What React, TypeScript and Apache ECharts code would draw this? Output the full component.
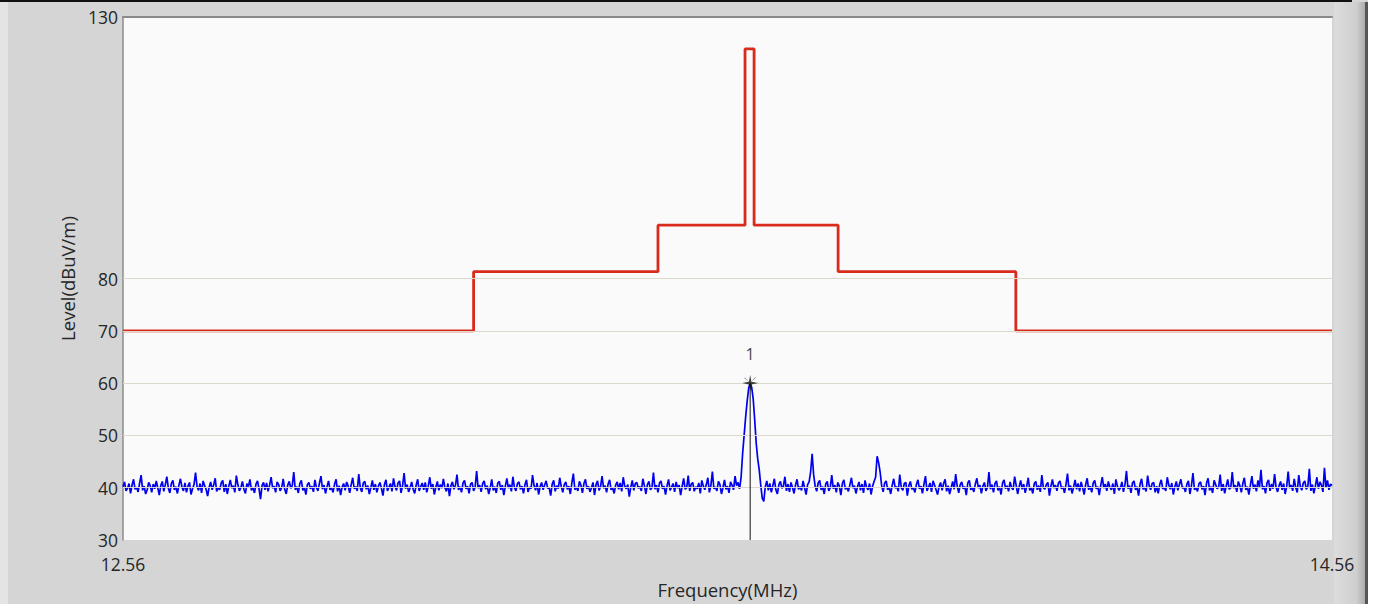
import React, { useEffect, useRef } from "react";
import * as echarts from "echarts";

// Axis ranges
const freqMin = 12.56;
const freqMax = 14.56;
const levelMin = 30;
const levelMax = 130;
const xTickLabels = [12.56, 14.56];
const yTickLabels = [30, 40, 50, 60, 70, 80, 130];
const gridLevels = [40, 50, 60, 70, 80];

// Limit mask (red): breakpoints in MHz and level in each segment (dBuV/m)
const maskEdges = [12.56, 13.14, 13.445, 13.589, 13.604, 13.743, 14.037, 14.56];
const maskLevels = [70, 81.3, 90.2, 123.9, 90.2, 81.3, 70];

// Measured trace (blue): level every traceStep MHz starting at freqMin
const traceStep = 0.0025;
const traceLevels = [
  40.2, 41.1, 39.4, 39.9, 40.8, 38.9, 40.5, 41.6, 39.7, 40.1, 39.2, 40.9, 42.4, 39.5, 40.3, 38.8, 39.6, 41.0, 40.4, 39.1,
  40.7, 39.8, 41.3, 40.0, 38.6, 40.4, 41.2, 39.3, 40.6, 42.1, 39.9, 39.0, 40.8, 41.4, 39.6, 40.2, 38.9, 40.5, 41.7, 40.1,
  39.4, 40.9, 39.1, 40.3, 41.0, 38.7, 39.8, 40.6, 42.9, 40.2, 39.5, 40.8, 39.0, 41.3, 40.4, 39.7, 38.4, 40.1, 41.1, 39.6,
  40.5, 41.8, 39.3, 40.0, 39.6, 40.9, 41.4, 39.2, 40.7, 38.8, 40.3, 41.5, 39.9, 40.4, 39.1, 42.3, 40.6, 39.4, 40.0, 41.2,
  39.7, 38.9, 40.8, 40.2, 41.6, 39.5, 40.1, 39.0, 40.7, 41.3, 39.8, 37.8, 40.4, 41.0, 39.6, 40.9, 39.3, 40.5, 42.0, 39.9,
  40.3, 39.1, 41.1, 40.6, 39.4, 40.0, 41.7, 39.7, 38.8, 40.5, 41.2, 39.9, 40.4, 43.0, 39.6, 40.2, 39.0, 40.8, 41.4, 39.5,
  40.1, 38.7, 40.6, 41.0, 39.8, 40.3, 39.2, 41.5, 40.0, 39.4, 40.9, 42.2, 39.7, 40.5, 38.9, 40.2, 41.3, 39.6, 40.0, 39.1,
  40.7, 41.6, 39.3, 40.4, 38.6, 40.1, 40.8, 39.5, 41.1, 40.3, 39.0, 40.6, 41.9, 39.8, 40.2, 39.4, 42.6, 40.0, 39.2, 40.9,
  41.2, 39.7, 40.4, 38.8, 40.0, 41.4, 39.6, 40.7, 39.1, 40.3, 41.0, 39.9, 38.5, 40.6, 41.5, 39.4, 40.1, 40.8, 39.3, 41.8,
  40.2, 39.5, 40.9, 41.3, 39.0, 40.4, 42.8, 39.8, 40.6, 39.2, 40.0, 41.1, 39.7, 38.9, 40.5, 41.6, 39.4, 40.2, 40.9, 39.6,
  41.0, 39.1, 40.3, 42.0, 39.8, 40.7, 38.7, 40.1, 41.2, 39.5, 40.6, 39.9, 41.7, 40.0, 39.3, 40.8, 38.4, 40.4, 41.1, 39.7,
  40.5, 42.5, 39.6, 40.2, 39.1, 40.9, 41.4, 39.8, 40.3, 38.9, 40.7, 41.0, 39.4, 40.1, 43.2, 39.9, 40.5, 39.2, 40.8, 41.3,
  39.7, 40.4, 38.8, 40.0, 41.6, 39.5, 40.2, 39.0, 40.9, 41.2, 39.6, 40.5, 38.6, 40.3, 41.8, 39.9, 40.6, 39.3, 42.1, 40.0,
  39.4, 40.8, 41.1, 39.7, 40.3, 38.9, 40.6, 41.5, 39.2, 40.1, 39.8, 42.4, 40.4, 39.5, 40.9, 38.7, 40.2, 41.0, 39.6, 40.5,
  41.3, 39.9, 40.0, 38.5, 40.7, 41.4, 39.3, 40.4, 39.8, 41.9, 40.2, 39.1, 40.6, 41.1, 39.7, 40.3, 38.8, 40.9, 42.7, 39.6,
  40.1, 39.4, 41.2, 40.5, 39.0, 40.8, 41.6, 39.8, 40.3, 39.2, 40.0, 41.0, 38.6, 40.6, 41.3, 39.5, 40.2, 42.2, 39.9, 40.4,
  39.1, 40.7, 41.5, 39.6, 40.0, 38.9, 40.5, 41.1, 39.7, 40.9, 39.3, 42.0, 40.3, 39.8, 40.6, 38.3, 40.1, 41.4, 39.5, 40.8,
  41.0, 39.9, 40.2, 39.4, 41.7, 40.4, 38.8, 40.6, 41.2, 39.6, 40.0, 42.9, 39.7, 40.5, 39.1, 40.9, 41.3, 39.8, 40.3, 38.7,
  40.4, 41.6, 39.5, 40.1, 40.8, 39.2, 41.1, 39.9, 40.5, 38.6, 40.3, 41.8, 39.7, 40.0, 42.3, 39.4, 40.7, 41.0, 39.3, 40.2,
  39.8, 40.9, 38.9, 41.4, 40.3, 39.6, 40.6, 41.9, 39.1, 40.4, 43.1, 39.8, 40.1, 39.4, 41.2, 40.6, 38.8, 40.0, 41.5, 39.7,
  40.3, 39.0, 41.1, 40.5, 39.6, 42.2, 40.4, 41.0, 39.8, 42.0, 46.5, 50.0, 53.5, 56.5, 59.0, 60.0, 59.2, 57.0, 53.0, 48.5,
  45.5, 43.4, 40.5, 38.0, 37.4, 40.2, 41.3, 39.5, 40.8, 39.1, 40.4, 41.7, 39.6, 38.8, 40.6, 41.2, 39.9, 40.3, 42.1, 39.4,
  40.7, 39.2, 41.0, 40.1, 38.9, 40.5, 41.6, 39.7, 40.2, 39.5, 41.3, 40.0, 38.7, 40.6, 41.1, 43.0, 46.5, 42.5, 40.3, 39.3,
  40.9, 41.4, 39.6, 40.2, 38.8, 40.7, 41.2, 39.4, 40.0, 42.4, 39.8, 40.5, 39.1, 41.0, 40.3, 38.6, 40.8, 41.5, 39.7, 40.1,
  39.3, 40.6, 41.9, 39.9, 40.4, 38.9, 40.2, 41.1, 39.5, 40.7, 39.0, 41.4, 40.1, 39.6, 40.8, 38.7, 40.3, 41.2, 42.0, 46.0,
  44.8, 43.0, 40.4, 39.2, 40.9, 41.3, 39.6, 40.1, 38.8, 40.5, 41.7, 39.9, 40.2, 39.3, 42.5, 40.0, 39.5, 40.8, 41.0, 38.5,
  40.4, 41.2, 39.7, 40.0, 39.1, 40.6, 41.5, 39.8, 40.3, 38.9, 40.7, 42.2, 39.4, 40.1, 40.9, 39.2, 41.3, 40.5, 39.6, 38.7,
  40.2, 41.0, 39.5, 40.8, 41.6, 39.3, 40.4, 38.8, 40.0, 41.2, 39.7, 42.6, 40.3, 39.0, 40.6, 41.1, 39.8, 40.2, 38.6, 40.9,
  41.4, 39.6, 40.1, 39.2, 40.7, 41.8, 39.9, 40.5, 38.9, 40.3, 41.0, 39.4, 40.0, 43.0, 39.7, 40.6, 39.1, 40.8, 41.3, 39.5,
  40.2, 38.7, 40.9, 41.5, 39.8, 40.4, 39.3, 41.1, 40.0, 39.6, 42.1, 40.5, 38.8, 40.2, 41.4, 39.7, 40.7, 39.0, 40.3, 41.9,
  39.5, 40.1, 38.9, 40.8, 41.2, 39.6, 40.4, 39.2, 42.4, 40.0, 39.7, 40.6, 41.0, 38.5, 40.3, 41.6, 39.9, 40.5, 39.4, 40.9,
  41.3, 39.8, 40.2, 39.0, 40.7, 42.7, 39.5, 40.4, 38.9, 40.1, 41.5, 39.7, 40.8, 39.3, 41.1, 40.0, 38.7, 40.6, 41.8, 39.6,
  40.3, 39.1, 40.9, 41.4, 39.8, 40.2, 38.6, 40.5, 42.0, 39.9, 40.7, 39.4, 41.2, 40.1, 39.6, 40.8, 38.8, 41.6, 40.3, 39.5,
  40.0, 41.1, 39.2, 40.6, 43.2, 39.8, 40.4, 39.0, 40.9, 41.3, 39.6, 40.2, 38.5, 40.7, 41.7, 39.7, 40.1, 39.3, 42.3, 40.4,
  39.6, 40.8, 41.0, 39.1, 40.3, 38.9, 40.6, 41.5, 39.8, 40.0, 39.4, 42.0, 40.5, 39.7, 40.9, 38.7, 40.2, 41.2, 39.5, 40.6,
  41.6, 39.9, 40.1, 39.2, 40.7, 41.3, 38.8, 40.4, 42.8, 39.6, 40.0, 39.3, 40.8, 41.1, 39.7, 40.3, 38.6, 40.9, 41.8, 39.5,
  40.2, 39.0, 41.4, 40.6, 39.8, 40.1, 42.5, 39.4, 40.7, 38.9, 40.3, 41.6, 39.7, 40.0, 43.0, 39.9, 40.5, 39.2, 41.2, 40.4,
  39.1, 40.8, 41.9, 39.6, 40.2, 38.7, 40.5, 42.2, 39.8, 40.6, 39.3, 41.4, 40.0, 43.4, 39.7, 40.3, 38.9, 40.9, 41.5, 39.4,
  40.7, 39.8, 42.6, 40.1, 39.2, 40.4, 41.2, 39.6, 40.8, 38.8, 40.2, 43.1, 39.9, 40.5, 39.4, 41.7, 40.0, 39.1, 42.4, 40.3,
  39.5, 40.9, 41.3, 39.7, 40.2, 43.6, 39.4, 40.6, 38.9, 40.3, 42.0, 39.8, 41.1, 40.5, 39.2, 43.8, 40.0, 41.4, 39.6, 40.7,
  40.4,
];

// Marker 1
const markerFreq = 13.5975;
const markerLevel = 60.0;
const markerName = "1";

const FONT = "'Open Sans', 'DejaVu Sans', sans-serif";
const TEXT = "#262626";

export default function App() {
  const ref = useRef<HTMLDivElement>(null);

  useEffect(() => {
    if (!ref.current) return;
    const chart = echarts.init(ref.current, null, { renderer: "svg" });

    const tracePoints = traceLevels.map((v, i) => [
      +(freqMin + i * traceStep).toFixed(5),
      v,
    ]);
    const maskPoints: number[][] = [];
    maskLevels.forEach((lv, i) => {
      maskPoints.push([maskEdges[i], lv]);
      maskPoints.push([maskEdges[i + 1], lv]);
    });

    const starPath =
      "path://M0,-10 L1.6,-1.6 L10,0 L1.6,1.6 L0,10 L-1.6,1.6 L-10,0 L-1.6,-1.6 Z M-7,-7 L-1,-1 L-7,-6 Z M7,-7 L1,-1 L6,-7 Z";

    chart.setOption({
      animation: false,
      backgroundColor: "#d5d5d5",
      graphic: [
        { type: "rect", left: 0, top: 0, shape: { width: 8, height: 604 }, style: { fill: "#e4e4e4" }, silent: true },
        { type: "rect", left: 0, top: 0, shape: { width: 1352, height: 2 }, style: { fill: "#111" }, silent: true },
        {
          type: "rect",
          left: 1334,
          top: 2,
          shape: { width: 32, height: 602 },
          style: {
            fill: new echarts.graphic.LinearGradient(0, 0, 1, 0, [
              { offset: 0, color: "#dcdcdc" },
              { offset: 0.7, color: "#cfcfcf" },
              { offset: 1, color: "#a8a8a8" },
            ]),
          },
          silent: true,
        },
        { type: "rect", left: 1365, top: 2, shape: { width: 3, height: 602 }, style: { fill: "#555" }, silent: true },
        { type: "rect", left: 1368, top: 0, shape: { width: 5, height: 604 }, style: { fill: "#fff" }, silent: true },
      ],
      grid: {
        left: 123,
        right: 41,
        top: 17,
        bottom: 64,
        show: true,
        backgroundColor: "#fafafa",
        borderWidth: 0,
      },
      xAxis: [
        {
          type: "value",
          min: freqMin,
          max: freqMax,
          name: "Frequency(MHz)",
          nameLocation: "middle",
          nameGap: 40,
          nameTextStyle: { fontFamily: FONT, fontSize: 18.5, color: TEXT },
          axisLine: { show: false },
          axisTick: { show: false },
          splitLine: { show: false },
          axisLabel: {
            customValues: xTickLabels,
            formatter: (v: number) => v.toFixed(2),
            fontFamily: FONT,
            fontSize: 17.5,
            color: TEXT,
            margin: 15,
            showMinLabel: true,
            showMaxLabel: true,
          },
        },
        {
          type: "value",
          position: "top",
          min: freqMin,
          max: freqMax,
          axisLine: { show: true, lineStyle: { color: "#8a8a8a", width: 2 } },
          axisTick: { show: false },
          axisLabel: { show: false },
          splitLine: { show: false },
        },
      ],
      yAxis: {
        type: "value",
        min: levelMin,
        max: levelMax,
        name: "Level(dBuV/m)",
        nameLocation: "middle",
        nameGap: 42,
        nameTextStyle: { fontFamily: FONT, fontSize: 18.5, color: TEXT },
        axisLine: { show: true, lineStyle: { color: "#8c8c8c", width: 1.5 } },
        axisTick: { show: false },
        splitLine: { show: false },
        axisLabel: {
          customValues: yTickLabels,
          fontFamily: FONT,
          fontSize: 17.5,
          color: TEXT,
          margin: 5,
          showMinLabel: true,
          showMaxLabel: true,
        },
      },
      series: [
        {
          type: "line",
          data: [],
          silent: true,
          markLine: {
            silent: true,
            symbol: "none",
            label: { show: false },
            lineStyle: { color: "#dcd8cc", width: 1, type: "solid" },
            data: gridLevels.map((g) => ({ yAxis: g })),
          },
        },
        {
          type: "line",
          data: tracePoints,
          showSymbol: false,
          symbol: "none",
          lineStyle: { color: "#0000ee", width: 1.7 },
          z: 3,
        },
        {
          type: "line",
          data: maskPoints,
          showSymbol: false,
          symbol: "none",
          lineStyle: { color: "#d92a1c", width: 2.8 },
          z: 4,
        },
        {
          type: "line",
          data: [
            [markerFreq, levelMin],
            [markerFreq, markerLevel],
          ],
          showSymbol: false,
          symbol: "none",
          lineStyle: { color: "#111", width: 1 },
          z: 5,
        },
        {
          type: "scatter",
          data: [[markerFreq, markerLevel]],
          symbol: starPath,
          symbolSize: 16,
          itemStyle: { color: "#111" },
          label: {
            show: true,
            formatter: markerName,
            position: "top",
            distance: 13,
            fontFamily: FONT,
            fontSize: 16,
            color: "#111",
          },
          z: 6,
        },
      ],
    });

    return () => chart.dispose();
  }, []);

  return (
    <div
      ref={ref}
      style={{ position: "fixed", left: 0, top: 0, width: 1373, height: 604 }}
    />
  );
}
